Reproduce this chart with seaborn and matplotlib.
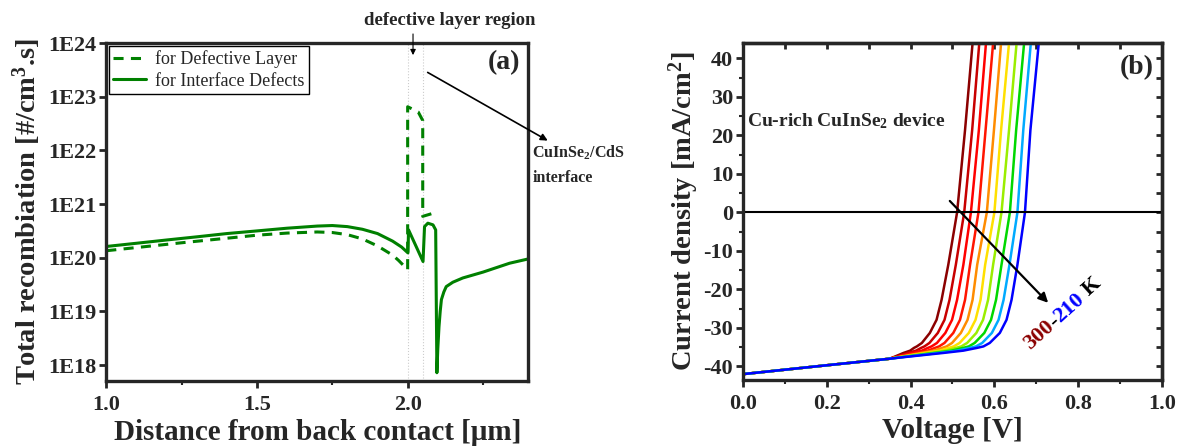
import numpy as np
import pandas as pd
import seaborn as sns
import matplotlib.pyplot as plt
from matplotlib.ticker import FixedLocator, MultipleLocator, NullLocator

# ---- panel (a): total recombination vs distance ----
dist_defect = [1.0, 1.25, 1.5, 1.6, 1.7, 1.75, 1.8, 1.85, 1.9, 1.95, 1.97, 2.0,
               2.0, 2.035, 2.05, 2.05, 2.079]
recomb_defect = [1.35e20, 1.9e20, 2.63e20, 2.88e20, 3.02e20, 2.95e20, 2.69e20, 2.24e20,
                 1.66e20, 1.12e20, 8.9e19, 6.0e19, 6.5e22, 5.2e22, 3.6e22, 5.9e20, 6.6e20]

dist_iface = [1.0, 1.1, 1.2, 1.3, 1.4, 1.5, 1.6, 1.7, 1.75, 1.8, 1.85, 1.9, 1.95, 1.98,
              2.001, 2.003, 2.051, 2.056, 2.067, 2.084, 2.093, 2.097, 2.1, 2.104, 2.108,
              2.112, 2.12, 2.128, 2.15, 2.183, 2.25, 2.338, 2.40]
recomb_iface = [1.62e20, 1.86e20, 2.14e20, 2.45e20, 2.82e20, 3.16e20, 3.55e20, 3.89e20,
                3.98e20, 3.8e20, 3.39e20, 2.82e20, 2.04e20, 1.58e20, 1.23e20, 3.3e20,
                8.5e19, 3.8e20, 4.4e20, 4.1e20, 3.3e20, 7.2e17, 2.0e18, 5.2e18, 1.0e19,
                1.66e19, 2.3e19, 2.9e19, 3.5e19, 4.2e19, 5.4e19, 7.9e19, 9.5e19]

decades = [1e18, 1e19, 1e20, 1e21, 1e22, 1e23, 1e24]
decade_labels = ['1E18', '1E19', '1E20', '1E21', '1E22', '1E23', '1E24']

# ---- panel (b): J-V curves, 300 K down to 210 K ----
temps = [300, 290, 280, 270, 260, 250, 240, 230, 220, 210]
j_levels = [-42.0, -39.7, -38.0, -37.6, -36.5, -35.9, -35.2, -34.8, -33.9, -31.3,
            -27.9, -22.7, -13.6, 0.0, 21.4, 44.0]
v_300 = [0.0, 0.2, 0.35, 0.359, 0.383, 0.399, 0.408, 0.415, 0.427, 0.446, 0.462, 0.474, 0.490, 0.511, 0.530, 0.548]
v_290 = [0.0, 0.2, 0.35, 0.362, 0.394, 0.413, 0.425, 0.433, 0.445, 0.465, 0.481, 0.493, 0.508, 0.528, 0.547, 0.564]
v_280 = [0.0, 0.2, 0.35, 0.364, 0.404, 0.427, 0.441, 0.450, 0.463, 0.483, 0.499, 0.511, 0.526, 0.544, 0.563, 0.580]
v_270 = [0.0, 0.2, 0.35, 0.367, 0.415, 0.441, 0.458, 0.468, 0.481, 0.502, 0.518, 0.530, 0.542, 0.562, 0.579, 0.597]
v_260 = [0.0, 0.2, 0.35, 0.370, 0.425, 0.455, 0.475, 0.486, 0.499, 0.520, 0.536, 0.548, 0.559, 0.582, 0.599, 0.616]
v_250 = [0.0, 0.2, 0.35, 0.372, 0.436, 0.470, 0.491, 0.503, 0.517, 0.539, 0.555, 0.567, 0.578, 0.600, 0.616, 0.635]
v_240 = [0.0, 0.2, 0.35, 0.375, 0.446, 0.484, 0.508, 0.521, 0.535, 0.557, 0.573, 0.585, 0.597, 0.617, 0.635, 0.653]
v_230 = [0.0, 0.2, 0.35, 0.378, 0.457, 0.498, 0.525, 0.539, 0.553, 0.576, 0.592, 0.604, 0.617, 0.637, 0.652, 0.671]
v_220 = [0.0, 0.2, 0.35, 0.380, 0.467, 0.512, 0.541, 0.556, 0.571, 0.594, 0.610, 0.622, 0.636, 0.655, 0.669, 0.687]
v_210 = [0.0, 0.2, 0.35, 0.383, 0.478, 0.526, 0.558, 0.574, 0.589, 0.613, 0.629, 0.641, 0.655, 0.673, 0.686, 0.706]
temp_colors = ['#8b0000', '#c80000', '#ff0000', '#ff1500', '#ff8c00',
               '#ffe000', '#9aee00', '#00d800', '#00aaff', '#0000ff']

sns.set_style('ticks')
plt.rcParams['font.family'] = ['Liberation Serif', 'DejaVu Serif']
plt.rcParams['font.weight'] = 'bold'
plt.rcParams['axes.labelweight'] = 'bold'
plt.rcParams['axes.linewidth'] = 2.4
plt.rcParams['axes.unicode_minus'] = False
plt.rcParams['mathtext.fontset'] = 'custom'
plt.rcParams['mathtext.rm'] = 'Liberation Serif:bold'
plt.rcParams['mathtext.it'] = 'Liberation Serif:bold'
plt.rcParams['mathtext.bf'] = 'Liberation Serif:bold'

fig = plt.figure(figsize=(11.78, 4.48), dpi=100)
ax1 = fig.add_axes([0.0902, 0.150, 0.3582, 0.754])
ax2 = fig.add_axes([0.6307, 0.152, 0.3557, 0.752])

green = '#008000'
ax1.axvline(2.0, color='#cccccc', lw=0.8, ls=':', zorder=0)
ax1.axvline(2.05, color='#cccccc', lw=0.8, ls=':', zorder=0)
sns.lineplot(x=dist_defect, y=recomb_defect, ax=ax1, sort=False, estimator=None,
             color=green, lw=2.2, linestyle=(0, (3.3, 2.4)), label='for Defective Layer')
sns.lineplot(x=dist_iface, y=recomb_iface, ax=ax1, sort=False, estimator=None,
             color=green, lw=2.2, label='for Interface Defects')
ax1.set_yscale('log')
ax1.set_xlim(1.0, 2.40)
ax1.set_ylim(5.1e17, 1e24)
ax1.yaxis.set_major_locator(FixedLocator(decades))
ax1.set_yticklabels(decade_labels)
ax1.yaxis.set_minor_locator(NullLocator())
ax1.xaxis.set_major_locator(MultipleLocator(0.5))
ax1.xaxis.set_minor_locator(MultipleLocator(0.25))
ax1.tick_params(axis='both', which='major', direction='out', length=5, width=2,
                labelsize=16, pad=2)
ax1.tick_params(axis='x', which='major', pad=5)
ax1.tick_params(axis='x', which='minor', direction='out', length=3, width=1.5)
ax1.set_xlabel('Distance from back contact [μm]', fontsize=21, labelpad=3)
ax1.set_ylabel('Total recombiation [#/cm$^3$.s]', fontsize=20.5, labelpad=4)
leg = ax1.legend(loc='upper left', frameon=True, fancybox=False,
                 edgecolor='black', framealpha=1, borderaxespad=0.15,
                 handlelength=1.8, handletextpad=0.5, borderpad=0.25, labelspacing=0.25,
                 prop={'weight': 'normal', 'size': 13})
leg.get_frame().set_linewidth(1)
ax1.text(2.32, 10**23.64, '(a)', fontsize=20, ha='center', va='center')

ax1.text(0.813, 1.068, 'defective layer region', transform=ax1.transAxes,
         fontsize=13.5, ha='center', va='center')
ax1.annotate('', xy=(0.727, 0.956), xytext=(0.727, 1.035), xycoords='axes fraction',
             arrowprops=dict(arrowstyle='-|>', color='black', lw=0.8,
                             mutation_scale=8), annotation_clip=False)
ax1.annotate('', xy=(1.052, 0.707), xytext=(0.756, 0.917), xycoords='axes fraction',
             arrowprops=dict(arrowstyle='-|>', color='black', lw=1.2,
                             mutation_scale=10), annotation_clip=False)
ax1.text(1.01, 0.675, 'CuInSe$_2$/CdS', transform=ax1.transAxes, fontsize=11.5,
         ha='left', va='center')
ax1.text(1.01, 0.60, 'interface', transform=ax1.transAxes, fontsize=11.5,
         ha='left', va='center')

# panel (b)
v_all = [v_300, v_290, v_280, v_270, v_260, v_250, v_240, v_230, v_220, v_210]
jv = pd.DataFrame({
    'V': np.concatenate(v_all),
    'J': np.tile(j_levels, len(temps)),
    'T': np.repeat(temps, len(j_levels)),
})
sns.lineplot(data=jv, x='V', y='J', hue='T', hue_order=temps, palette=temp_colors,
             sort=False, estimator=None, lw=1.8, legend=False, ax=ax2)
ax2.axhline(0, color='black', lw=1.5)
ax2.set_xlim(0, 1.0)
ax2.set_ylim(-43.5, 44.0)
ax2.xaxis.set_major_locator(MultipleLocator(0.2))
ax2.xaxis.set_minor_locator(MultipleLocator(0.1))
ax2.yaxis.set_major_locator(MultipleLocator(10))
ax2.yaxis.set_minor_locator(MultipleLocator(5))
ax2.tick_params(axis='both', which='major', direction='out', length=5, width=2,
                labelsize=16, pad=2)
ax2.tick_params(axis='x', which='major', pad=5)
ax2.tick_params(axis='both', which='minor', direction='out', length=3, width=1.5)

top = ax2.secondary_xaxis('top')
top.xaxis.set_major_locator(MultipleLocator(0.1))
top.tick_params(direction='in', length=4, width=2, labeltop=False)
right = ax2.secondary_yaxis('right')
right.yaxis.set_major_locator(MultipleLocator(5))
right.tick_params(direction='in', length=4, width=2, labelright=False)

ax2.set_xlabel('Voltage [V]', fontsize=21, labelpad=2)
ax2.set_ylabel('Current density [mA/cm$^2$]', fontsize=20.5, labelpad=2)
ax2.text(0.94, 37.5, '(b)', fontsize=20, ha='center', va='center')
ax2.text(0.01, 23.6, 'Cu-rich CuInSe$_2$ device', fontsize=14, ha='left', va='center')
ax2.annotate('', xy=(0.733, -24.0), xytext=(0.489, 3.5),
             arrowprops=dict(arrowstyle='-|>', color='black', lw=1.6, mutation_scale=14))

# rotated "300-210 K" label built from coloured pieces
angle = 42
pieces = [('300', '#8b0000'), ('-', 'black'), ('210', '#0000ff'), (' K', 'black')]
renderer = fig.canvas.get_renderer()
x_disp, y_disp = ax2.transData.transform((0.685, -35.7))
for txt, col in pieces:
    ax2.text(*ax2.transData.inverted().transform((x_disp, y_disp)), txt, color=col,
             fontsize=16, rotation=angle, rotation_mode='anchor',
             ha='left', va='baseline')
    probe = fig.text(0, 0, txt, fontsize=16)
    w = probe.get_window_extent(renderer).width
    probe.remove()
    x_disp += w * np.cos(np.radians(angle))
    y_disp += w * np.sin(np.radians(angle))

fig.savefig('out.png', dpi=100)
